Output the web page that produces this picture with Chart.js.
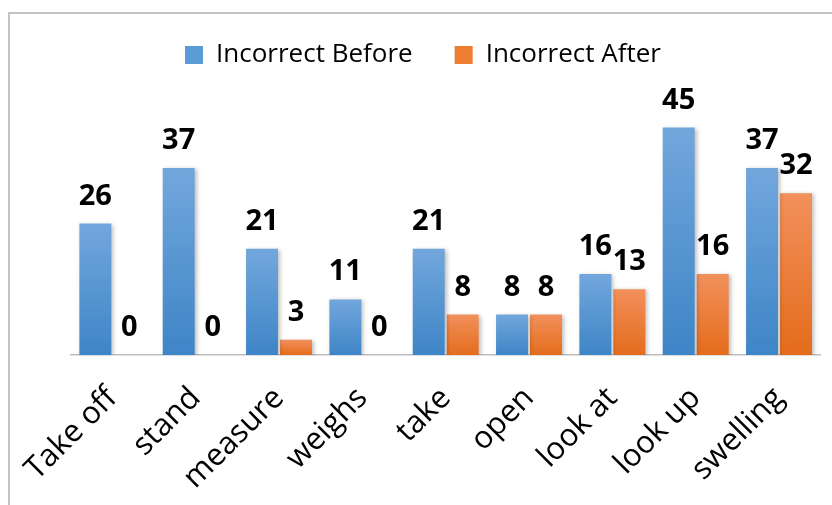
<!DOCTYPE html>
<html>
<head>
<meta charset="utf-8">
<script src="https://cdn.jsdelivr.net/npm/chart.js@4"></script>
<style>
html,body{margin:0;padding:0;background:#fff;}
#wrap{position:absolute;left:0;top:0;width:832px;height:505px;}
</style>
</head>
<body>
<div id="wrap"><canvas id="c" width="832" height="505"></canvas></div>
<script>
const categories = ["Take off","stand","measure","weighs","take","open","look at","look up","swelling"];
const incorrectBefore = [26,37,21,11,21,8,16,45,37];
const incorrectAfter = [0,0,3,0,8,8,13,16,32];
const seriesNames = ["Incorrect Before","Incorrect After"];

const FONT = "'Open Sans', sans-serif";

function grad(top, bottom){
  return (ctx)=>{
    const c = ctx.chart;
    if (!c.chartArea || ctx.type !== 'data') return bottom;
    const ys = c.scales.y;
    const yt = ys.getPixelForValue(ctx.raw), yb = ys.getPixelForValue(0);
    if (yb - yt < 1) return bottom;
    const g = c.ctx.createLinearGradient(0, yt, 0, yb);
    g.addColorStop(0, top);
    g.addColorStop(1, bottom);
    return g;
  };
}

const frame = {
  id:'frame',
  beforeDraw(chart){
    const ctx = chart.ctx;
    ctx.save();
    ctx.strokeStyle = '#c3c3c3';
    ctx.lineWidth = 2;
    ctx.strokeRect(9, 13, 900, 600);
    ctx.restore();
  }
};

const shadow = {
  id:'shadow',
  beforeDatasetDraw(chart){
    const ctx = chart.ctx;
    ctx.save();
    ctx.shadowColor = 'rgba(0,0,0,0.25)';
    ctx.shadowBlur = 4;
    ctx.shadowOffsetX = 2;
    ctx.shadowOffsetY = 1;
  },
  afterDatasetDraw(chart){
    chart.ctx.restore();
  }
};

const labelsPlugin = {
  id:'valueLabels',
  afterDatasetsDraw(chart){
    const ctx = chart.ctx;
    ctx.save();
    ctx.font = "bold 29px " + FONT;
    ctx.fillStyle = '#000';
    ctx.textAlign = 'center';
    ctx.textBaseline = 'alphabetic';
    chart.data.datasets.forEach((ds, di)=>{
      const meta = chart.getDatasetMeta(di);
      meta.data.forEach((el, i)=>{
        ctx.fillText(String(ds.data[i]), el.x, el.y - 19);
      });
    });
    ctx.restore();
  }
};

new Chart(document.getElementById('c'), {
  type:'bar',
  data:{
    labels: categories,
    datasets:[
      {label: seriesNames[0], data: incorrectBefore, backgroundColor: grad('#72a7dc','#3e85c7'), legendColor:'#5b9bd5'},
      {label: seriesNames[1], data: incorrectAfter, backgroundColor: grad('#f2905c','#e46c1c'), legendColor:'#ed7d31'}
    ]
  },
  options:{
    responsive:false,
    animation:false,
    devicePixelRatio:1,
    categoryPercentage:0.816,
    barPercentage:0.94,
    layout:{padding:{left:25.3,right:11.3,top:0,bottom:0}},
    plugins:{
      legend:{
        position:'top',
        labels:{
          font:{size:26,family:FONT},
          color:'#000',
          boxWidth:18,
          boxHeight:18,
          padding:42,
          generateLabels(chart){
            return chart.data.datasets.map((ds,i)=>({
              text: ds.label, fillStyle: ds.legendColor, strokeStyle: ds.legendColor,
              lineWidth:0, hidden:false, datasetIndex:i
            }));
          }
        }
      },
      tooltip:{enabled:false}
    },
    scales:{
      x:{
        grid:{display:false},
        border:{display:true,color:'#bfbfbf',width:1.5},
        ticks:{font:{size:31,family:FONT},color:'#000',maxRotation:45,minRotation:45,padding:17},
        afterFit(scale){ scale.height = 150; }
      },
      y:{
        display:true,min:0,max:54.8,
        grid:{display:false},
        border:{display:false},
        ticks:{display:false},
        afterFit(scale){ scale.width = 45.4; }
      }
    }
  },
  plugins:[frame, shadow, labelsPlugin]
});
</script>
</body>
</html>
